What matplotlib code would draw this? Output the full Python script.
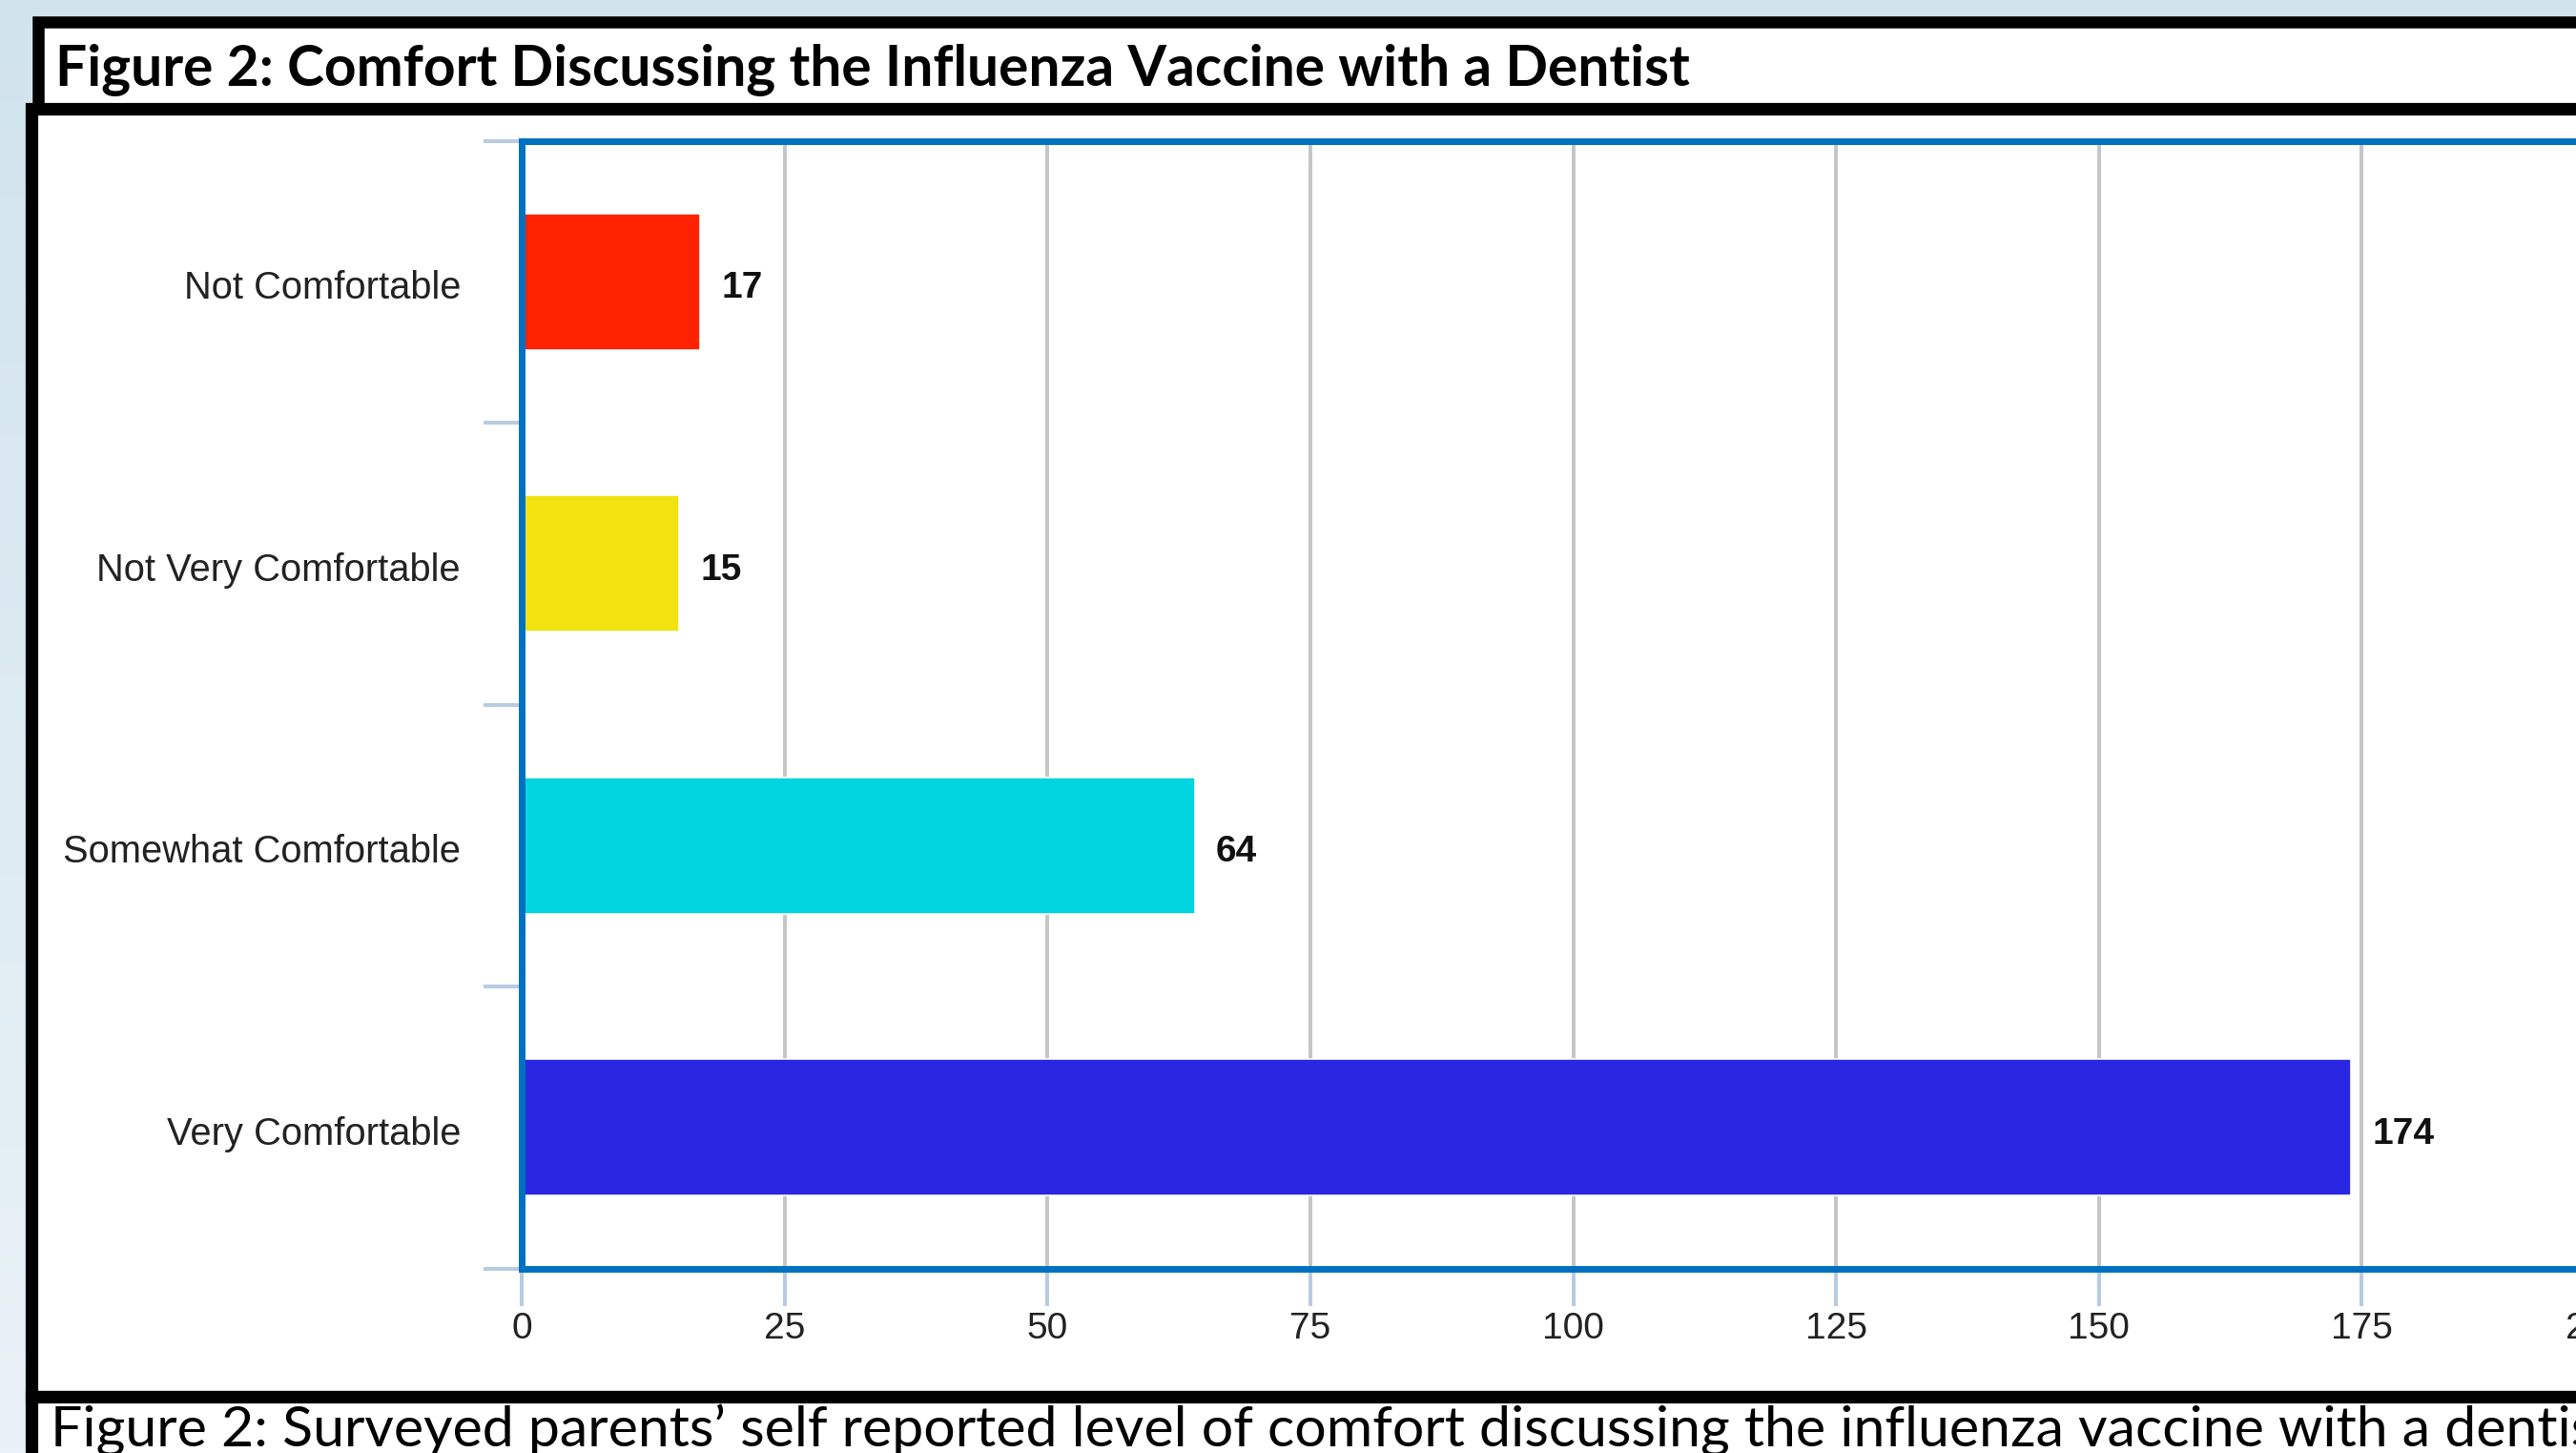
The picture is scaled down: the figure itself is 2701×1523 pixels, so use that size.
import numpy as np
import matplotlib.pyplot as plt
from matplotlib.patches import Rectangle
from matplotlib.colors import LinearSegmentedColormap
from matplotlib.transforms import ScaledTranslation

categories = ["Not Comfortable", "Not Very Comfortable", "Somewhat Comfortable", "Very Comfortable"]
counts = [17, 15, 64, 174]
bar_colors = ["#ff2200", "#f2e20f", "#00d4df", "#2a27e3"]
x_ticks = [0, 25, 50, 75, 100, 125, 150, 175, 200]

title = "Figure 2: Comfort Discussing the Influenza Vaccine with a Dentist"
caption = "Figure 2: Surveyed parents\u2019 self reported level of comfort discussing the influenza vaccine with a dentist."

plt.rcParams['font.family'] = ['Liberation Sans', 'DejaVu Sans']

W, H = 2701, 1523
fig = plt.figure(figsize=(W / 100, H / 100), dpi=100)

# background layer, in pixel coordinates (y down)
bg = fig.add_axes([0, 0, 1, 1])
grad = np.linspace(0, 1, 256).reshape(-1, 1)
cmap = LinearSegmentedColormap.from_list("bg", ["#d1e3ed", "#e9f2f7"])
bg.imshow(grad, cmap=cmap, extent=[0, W, H, 0], aspect="auto")

# title box, chart box, caption box
bg.add_patch(Rectangle((39.5, 23), 2800, 91, facecolor="white", edgecolor="black", lw=9))
bg.add_patch(Rectangle((33, 114), 2800, 1350, facecolor="white", edgecolor="black", lw=9.5))
bg.add_patch(Rectangle((33, 1464), 2800, 300, facecolor="white", edgecolor="black", lw=9.5))
bg.set_xlim(0, W)
bg.set_ylim(H, 0)
bg.axis("off")

bg.text(58, 73, title, family=["Lato", "DejaVu Sans"], fontweight="bold", fontsize=42.2,
        va="center", ha="left")
bg.text(53, 1472, caption, family=["Lato", "DejaVu Sans"], fontsize=42.5, va="top", ha="left")

# the chart itself
left, right, top, bottom = 547, 2752, 147.5, 1329.5
ax = fig.add_axes([left / W, 1 - bottom / H, (right - left) / W, (bottom - top) / H])

y = np.arange(len(categories))
ax.barh(y, counts, height=0.485, color=bar_colors, edgecolor="white", linewidth=1.2, zorder=2)
for i, v in enumerate(counts):
    ax.annotate(str(v), (v, i), xytext=(16, -5), textcoords="offset points",
                va="center", ha="left", fontsize=28, fontweight="bold", color="#111111")

ax.set_xlim(0, 200)
ax.set_ylim(len(categories) - 0.5, -0.5)

ax.set_yticks(y, categories)
ax.set_yticks(np.arange(len(categories) + 1) - 0.5, minor=True)
ax.tick_params(axis="y", which="major", length=0, pad=46, labelsize=28.7, labelcolor="#222222")
ax.tick_params(axis="y", which="minor", length=29, width=2.9, color="#b7cbe1")
ax.set_xticks(x_ticks)
ax.tick_params(axis="x", length=28, width=2.9, color="#b7cbe1", pad=4.5, labelsize=28,
               labelcolor="#222222")

# nudge labels to sit like the original
for lab in ax.get_yticklabels():
    lab.set_transform(lab.get_transform() + ScaledTranslation(0, -0.03, fig.dpi_scale_trans))
last = ax.get_xticklabels()[-1]
last.set_transform(last.get_transform() + ScaledTranslation(-0.3, 0, fig.dpi_scale_trans))

ax.grid(axis="x", color="#c6c6c6", lw=2.9)
ax.set_axisbelow(True)
for s in ["left", "top", "bottom"]:
    ax.spines[s].set_color("#0070c0")
    ax.spines[s].set_linewidth(5)
ax.spines["right"].set_visible(False)

fig.savefig("out.png", dpi=100)
